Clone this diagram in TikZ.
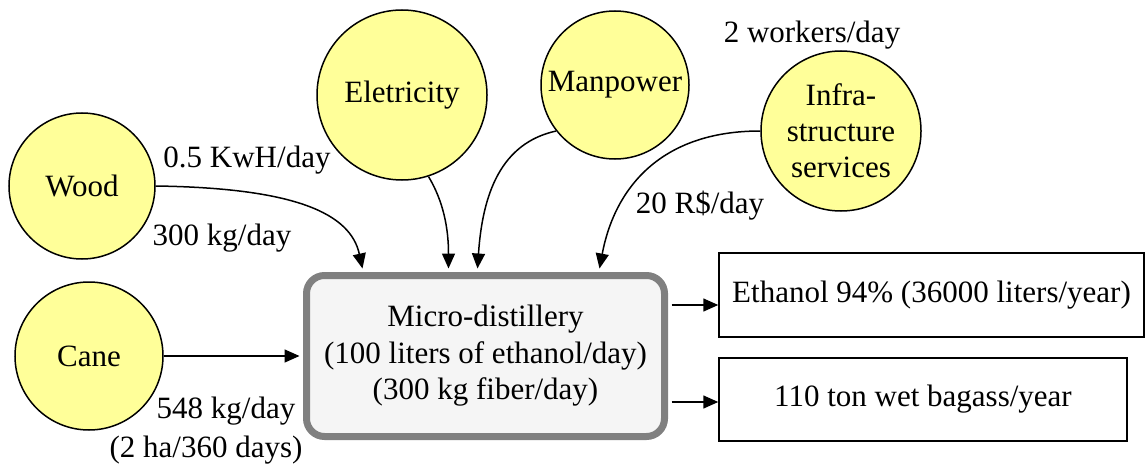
\documentclass[tikz,border=0pt]{standalone}
\usepackage{fontspec}
\setmainfont{Liberation Serif}
\usetikzlibrary{arrows.meta,calc}
\definecolor{inputfill}{HTML}{FFFF99}
\definecolor{boxfill}{HTML}{F5F5F5}
\definecolor{boxline}{HTML}{808080}
\begin{document}
\begin{tikzpicture}[x=1pt,y=-1pt,
  font=\fontsize{31}{34}\selectfont,
  res/.style={circle,draw,line width=1.5pt,fill=inputfill,inner sep=0pt,align=center},
  outbox/.style={draw,line width=1.5pt,inner sep=0pt},
  flow/.style={line width=1.5pt,-{Triangle[length=15pt,width=13pt]}},
  lbl/.style={inner sep=0pt}]
\useasboundingbox (0,0) rectangle (1147,468);

% input resources
\node[res,minimum size=146] (wood) at (82,186) {Wood};
\node[res,minimum size=148] (cane) at (89,356) {Cane};
\node[res,minimum size=170] (elec) at (402,95) {Eletricity};
\node[res,minimum size=148] (man) at (615,85) {Manpower};
\node[res,minimum size=160,font=\fontsize{31}{36}\selectfont] (infra) at (841,131) {Infra-\\structure\\services};

% central process
\node[draw=boxline,line width=7pt,fill=boxfill,rounded corners=18pt,
      minimum width=358,minimum height=161,align=center,inner sep=0pt,
      font=\fontsize{31}{36.5}\selectfont] (still) at (485.5,356)
      {Micro-distillery\\(100 liters of ethanol/day)\\(300 kg fiber/day)};

% outputs
\node[outbox,minimum width=425,minimum height=84] (eth) at (931.5,295) {Ethanol 94\% (36000 liters/year)};
\node[outbox,minimum width=408,minimum height=83] (bag) at (923,399.5) {110 ton wet bagass/year};

% flow labels
\node[lbl] (lkwh) at (247,160) {0.5 KwH/day};
\node[lbl] (lwood) at (222,238) {300 kg/day};
\node[lbl] (lwork) at (812,35) {2 workers/day};
\node[lbl] (lrs) at (700,206) {20 R\$/day};
\node[lbl] (lcane) at (226,411) {548 kg/day};
\node[lbl] (lha) at (206,450) {(2 ha/360 days)};

% arrow ends on the process box
\coordinate (tw) at ($(still.north west)+(59.5,-3.5)$);
\coordinate (te) at ($(still.north west)+(145.5,-3.5)$);
\coordinate (tm) at ($(still.north west)+(174.5,-3.5)$);
\coordinate (ti) at ($(still.north west)+(296.5,-3.5)$);
\coordinate (tc) at ($(still.west)+(-3.5,0)$);
\coordinate (o1) at ($(still.east)+(3.5,-51)$);
\coordinate (o2) at ($(still.east)+(3.5,46)$);

% flows
\draw[flow] (wood.east) .. controls +(140,2) and +(-12,-55) .. (tw);
\draw[flow] (elec.-72) .. controls +(15,25) and +(0,-40) .. (te);
\draw[flow] (man.218) .. controls +(-55,12) and +(5,-75) .. (tm);
\draw[flow] (infra.west) .. controls +(-100,0) and +(15,-80) .. (ti);
\draw[flow] (cane.east) -- (tc);
\draw[flow] (o1) -- (o1 -| eth.west);
\draw[flow] (o2) -- (o2 -| bag.west);
\end{tikzpicture}
\end{document}
